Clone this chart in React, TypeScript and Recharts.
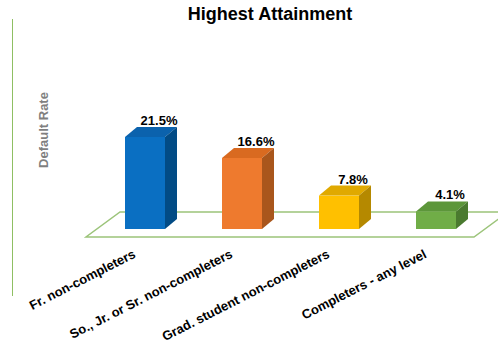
import React from 'react';
import { BarChart, Bar, XAxis, YAxis, ReferenceArea, LabelList } from 'recharts';

const categories = [
  'Fr. non-completers',
  'So., Jr. or Sr. non-completers',
  'Grad. student non-completers',
  'Completers - any level',
];
const rates = [21.5, 16.6, 7.8, 4.1];

const data = categories.map((name, i) => ({ name, rate: rates[i] }));

// front / top / side shades for each bar
const COLORS = [
  { front: '#0a6fc2', top: '#0b62ad', side: '#024b85' },
  { front: '#ee7a2e', top: '#d96a20', side: '#a9561c' },
  { front: '#ffc000', top: '#e0a900', side: '#b58900' },
  { front: '#70ad47', top: '#5c963a', side: '#4a7a2f' },
];

const FONT = '"Liberation Sans", Arial, sans-serif';
const DX = 12;
const DY = 10;

const Bar3D = (props: any) => {
  const { x, y, width, height, index } = props;
  const c = COLORS[index % COLORS.length];
  return (
    <g>
      <rect x={x} y={y} width={width} height={height} fill={c.front} />
      <polygon
        points={`${x},${y} ${x + DX},${y - DY} ${x + width + DX},${y - DY} ${x + width},${y}`}
        fill={c.top}
      />
      <polygon
        points={`${x + width},${y} ${x + width + DX},${y - DY} ${x + width + DX},${y + height - DY} ${x + width},${y + height}`}
        fill={c.side}
      />
    </g>
  );
};

// floor plane drawn from the plot area's zero line
const Floor = (props: any) => {
  const { x, y, width, height } = props;
  const base = y + height;
  const fy = base + 8;
  const fx = x - 10;
  const pts = `${fx},${fy} ${fx + width},${fy} ${fx + width + 34},${fy - 25} ${fx + 34},${fy - 25}`;
  return <polygon points={pts} fill="#ffffff" stroke="#9cc47a" strokeWidth={1.5} />;
};

const ValueLabel = (props: any) => {
  const { x, y, width, value } = props;
  return (
    <text
      x={x + width / 2 + 14}
      y={y - 12}
      textAnchor="middle"
      fontSize={13}
      fontWeight="bold"
      fontFamily={FONT}
      fill="#000"
    >
      {value.toFixed(1)}%
    </text>
  );
};

const Tick = (props: any) => {
  const { x, y, payload } = props;
  return (
    <g transform={`translate(${x - 8},${y + 20})`}>
      <text
        textAnchor="end"
        transform="rotate(-27)"
        fontSize={13}
        fontWeight="bold"
        fontFamily={FONT}
        fill="#000"
      >
        {payload.value}
      </text>
    </g>
  );
};

export default function App() {
  return (
    <div style={{ position: 'absolute', left: 0, top: 0, width: 498, height: 345, background: '#fff', fontFamily: FONT }}>
      {/* left frame line */}
      <div style={{ position: 'absolute', left: 12, top: 19, width: 0, height: 277, borderLeft: '1.5px solid #8fbf63' }} />
      <div
        style={{
          position: 'absolute', left: 170, top: 5, width: 200, textAlign: 'center',
          fontSize: 18, lineHeight: '18px', fontWeight: 'bold', color: '#000',
        }}
      >
        Highest Attainment
      </div>
      <div
        style={{
          position: 'absolute', left: 43, top: 130, transform: 'translate(-50%, -50%) rotate(-90deg)',
          whiteSpace: 'nowrap', fontSize: 13, fontWeight: 'bold', color: '#7f7f7f',
        }}
      >
        Default Rate
      </div>
      <BarChart
        width={498}
        height={345}
        data={data}
        margin={{ top: 122, right: 14, bottom: 86, left: 96 }}
        style={{ position: 'absolute', left: 0, top: 0 }}
      >
        <YAxis hide domain={[0, 25]} />
        <XAxis
          dataKey="name"
          height={30}
          axisLine={false}
          tickLine={false}
          interval={0}
          tick={<Tick />}
        />
        <ReferenceArea y1={0} y2={1} shape={<Floor />} />
        <Bar dataKey="rate" barSize={40} shape={<Bar3D />} isAnimationActive={false}>
          <LabelList dataKey="rate" content={<ValueLabel />} />
        </Bar>
      </BarChart>
    </div>
  );
}
